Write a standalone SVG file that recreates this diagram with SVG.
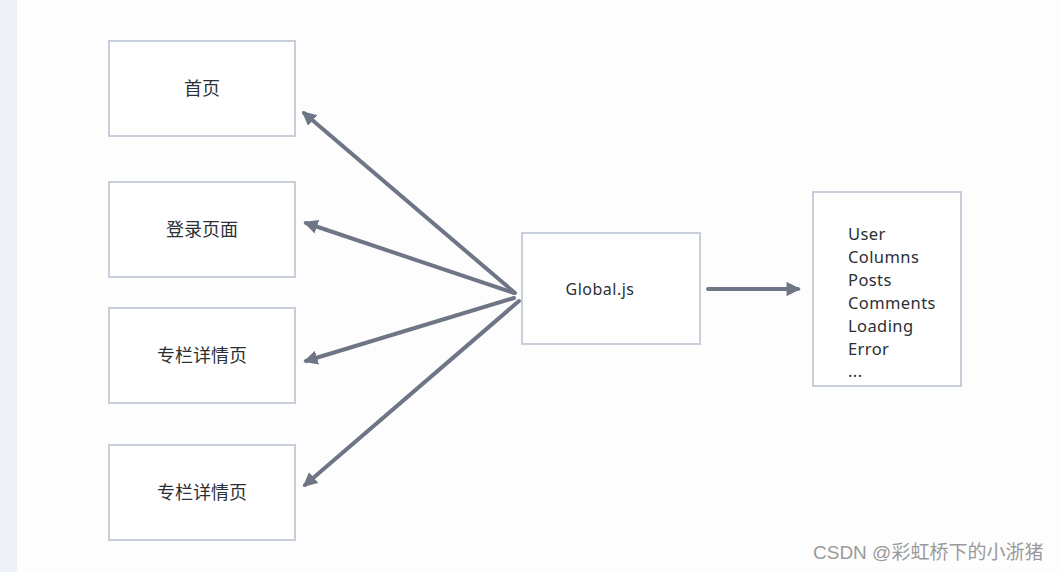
<svg xmlns="http://www.w3.org/2000/svg" width="1061" height="572" viewBox="0 0 1061 572">
<style>
.box{fill:#ffffff;stroke:#c9cfda;stroke-width:2}
.lbl{font-family:"Noto Sans","Noto Sans CJK SC",sans-serif;font-size:18px;fill:#2b2f36;text-anchor:middle}
.lst{font-family:"Noto Sans",sans-serif;font-size:16.5px;letter-spacing:0.4px;fill:#2b2f36}
.edge{stroke:#6e7685;stroke-width:4;fill:none;stroke-linecap:round}
</style>
<defs>
<marker id="ah" viewBox="0 0 10 10" refX="8" refY="5" markerWidth="3.6" markerHeight="3.6" orient="auto" markerUnits="strokeWidth">
<path d="M0,0 L10,5 L0,10 z" fill="#6e7685"/>
</marker>
</defs>
<rect x="0" y="0" width="1061" height="572" fill="#fdfdfe"/>
<rect x="0" y="0" width="17" height="572" fill="#eef1f8"/>
<g id="n1"><rect class="box" x="109" y="41" width="186" height="95"/><text class="lbl" x="202" y="95">首页</text></g>
<g id="n2"><rect class="box" x="109" y="182" width="186" height="95"/><text class="lbl" x="202" y="236">登录页面</text></g>
<g id="n3"><rect class="box" x="109" y="308" width="186" height="95"/><text class="lbl" x="202" y="362">专栏详情页</text></g>
<g id="n4"><rect class="box" x="109" y="445" width="186" height="95"/><text class="lbl" x="202" y="499">专栏详情页</text></g>
<g id="global"><rect class="box" x="522" y="233" width="178" height="111"/><text class="lbl" x="600" y="295" style="font-size:16px;letter-spacing:0.5px">Global.js</text></g>
<g id="store"><rect class="box" x="813" y="192" width="148" height="194"/>
<text class="lst" x="848" y="240">User</text>
<text class="lst" x="848" y="263">Columns</text>
<text class="lst" x="848" y="286">Posts</text>
<text class="lst" x="848" y="309">Comments</text>
<text class="lst" x="848" y="332">Loading</text>
<text class="lst" x="848" y="355">Error</text>
<text class="lst" x="848" y="377">...</text>
</g>
<g id="edges">
<line class="edge" x1="515" y1="293" x2="304" y2="113" marker-end="url(#ah)"/>
<line class="edge" x1="514" y1="293" x2="306" y2="223" marker-end="url(#ah)"/>
<line class="edge" x1="514" y1="298" x2="306" y2="361" marker-end="url(#ah)"/>
<line class="edge" x1="519" y1="301" x2="305" y2="485" marker-end="url(#ah)"/>
<line class="edge" x1="708" y1="289" x2="798" y2="289" marker-end="url(#ah)"/>
</g>
<text x="813" y="559" style="font-family:'Liberation Sans','Noto Sans CJK SC',sans-serif;font-size:19px;fill:#9a9a9a">CSDN @彩虹桥下的小浙猪</text>
</svg>
